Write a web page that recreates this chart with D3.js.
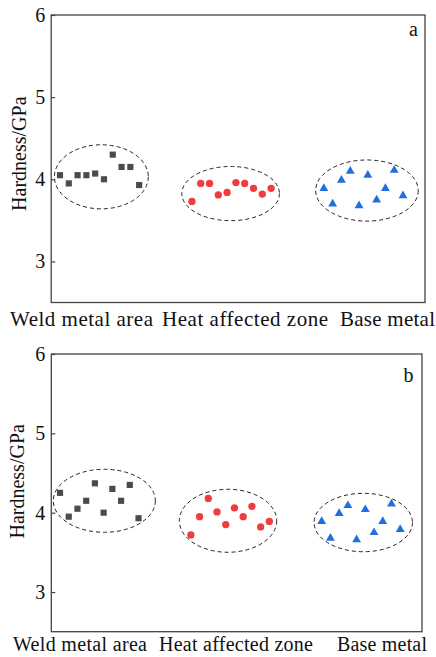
<!DOCTYPE html>
<html><head><meta charset="utf-8">
<script src="https://cdn.jsdelivr.net/npm/d3@7"></script>
<style>html,body{margin:0;padding:0;background:#fff;}svg{display:block;}
svg text{font-family:"Liberation Serif","Times New Roman",serif;}</style>
</head><body>
<script>
// ---------- data ----------
const categories = ["Weld metal area", "Heat affected zone", "Base metal"];
const yTicks = [3, 4, 5, 6];
const panelLetters = ["a", "b"];
// sample positions (measurement index) for each zone
const weldIdx = [1, 2, 3, 4, 5, 6, 7, 8, 9, 10];
const heatIdx = [16, 17, 18, 19, 20, 21, 22, 23, 24, 25];
const baseIdx = [31, 32, 33, 34, 35, 36, 37, 38, 39, 40];
// panel a hardness (GPa)
const weldA = [4.05, 3.95, 4.05, 4.05, 4.07, 4.00, 4.30, 4.15, 4.15, 3.93];
const heatA = [3.73, 3.95, 3.95, 3.81, 3.84, 3.96, 3.95, 3.89, 3.82, 3.89];
const baseA = [3.89, 3.70, 3.99, 4.10, 3.68, 4.05, 3.75, 3.89, 4.11, 3.80];
// panel b hardness (GPa)
const weldB = [4.25, 3.95, 4.05, 4.15, 4.37, 4.00, 4.30, 4.15, 4.35, 3.93];
const heatB = [3.72, 3.95, 4.18, 4.01, 3.85, 4.06, 3.95, 4.08, 3.82, 3.89];
const baseB = [3.89, 3.68, 3.99, 4.09, 3.66, 4.04, 3.75, 3.89, 4.11, 3.79];
// grouping ellipses [centre index, centre GPa, radius index, radius GPa]
const ellipsesA = [[5.7, 4.03, 5.34, 0.39], [20.4, 3.826, 5.55, 0.33], [35.9, 3.863, 5.83, 0.372]];
const ellipsesB = [[6.08, 4.15, 5.85, 0.397], [20.26, 3.898, 5.58, 0.397], [35.77, 3.876, 5.64, 0.368]];

// ---------- layout ----------
const W = 436, H = 657;
const panels = [
  {top: 15, bottom: 302.5, left: 51.2, right: 425, series: [weldA, heatA, baseA], ell: ellipsesA,
   labelFont: 21, labelY: 326, labelX: [81.5, 245, 387.5], labelLen: [143, 166, 95],
   titleX: 26, titleY: 153.7, letterX: 413.5, letterY: 36},
  {top: 354, bottom: 631.7, left: 51.3, right: 422, series: [weldB, heatB, baseB], ell: ellipsesB,
   labelFont: 20, labelY: 650.5, labelX: [80, 236, 382], labelLen: [134, 154, 90],
   titleX: 24.3, titleY: 481.3, letterX: 408.5, letterY: 382}
];
const idxs = [weldIdx, heatIdx, baseIdx];
const colors = ["#4b4b4b", "#f03c3c", "#1f6fe0"];
const symbols = [d3.symbolSquare, d3.symbolCircle, d3.symbolTriangle];
const symSizes = [38, 42, 34];

const svg = d3.select("body").append("svg").attr("width", W).attr("height", H);

panels.forEach((p, pi) => {
  const x = d3.scaleLinear().domain([0, 42.5]).range([p.left, p.right]);
  const y = d3.scaleLinear().domain([2.5, 6]).range([p.bottom, p.top]);
  const g = svg.append("g");

  // ellipses
  g.selectAll("ellipse.grp").data(p.ell).join("ellipse")
    .attr("cx", d => x(d[0])).attr("cy", d => y(d[1]))
    .attr("rx", d => x(d[0] + d[2]) - x(d[0]))
    .attr("ry", d => y(d[1] - d[3]) - y(d[1]))
    .attr("fill", "none").attr("stroke", "#222").attr("stroke-width", 1)
    .attr("stroke-dasharray", "4,3");

  // points
  p.series.forEach((vals, si) => {
    const pts = vals.map((v, i) => ({x: idxs[si][i], v}));
    g.selectAll(null).data(pts).join("path")
      .attr("transform", d => `translate(${x(d.x)},${y(d.v)})`)
      .attr("d", d3.symbol().type(symbols[si]).size(symSizes[si]))
      .attr("fill", colors[si]);
  });

  // frame
  g.append("rect").attr("x", p.left).attr("y", p.top)
    .attr("width", p.right - p.left).attr("height", p.bottom - p.top)
    .attr("fill", "none").attr("stroke", "#444").attr("stroke-width", 1.3);

  // y axis
  const ax = g.append("g").attr("transform", `translate(${p.left},0)`)
    .call(d3.axisLeft(y).tickValues(yTicks).tickFormat(d3.format("d"))
      .tickSizeInner(-4).tickSizeOuter(0).tickPadding(6));
  ax.select(".domain").remove();
  ax.selectAll(".tick line").attr("stroke", "#444").attr("stroke-width", 1.2);
  ax.selectAll(".tick text").attr("font-size", 20).attr("fill", "#111");

  // y title
  g.append("text")
    .attr("transform", `translate(${p.titleX},${p.titleY}) rotate(-90)`)
    .attr("text-anchor", "middle")
    .attr("font-size", 20).attr("fill", "#111").text("Hardness/GPa");

  // category labels
  g.selectAll("text.cat").data(categories).join("text")
    .attr("class", "cat")
    .attr("x", (d, i) => p.labelX[i]).attr("y", p.labelY)
    .attr("text-anchor", "middle").attr("font-size", p.labelFont).attr("fill", "#111")
    .attr("textLength", (d, i) => p.labelLen[i]).attr("lengthAdjust", "spacing")
    .text(d => d);

  // panel letter
  g.append("text").attr("x", p.letterX).attr("y", p.letterY)
    .attr("text-anchor", "middle").attr("font-size", 20).attr("fill", "#111")
    .text(panelLetters[pi]);
});
</script>
</body></html>
